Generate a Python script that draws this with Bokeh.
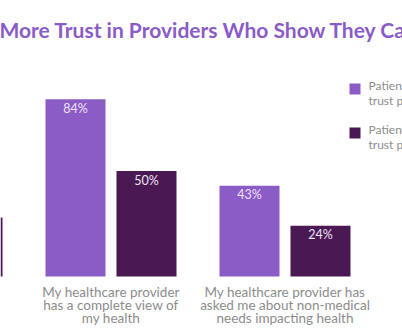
import math
from bokeh.plotting import figure
from bokeh.models import ColumnDataSource, Range1d, Label, BoxAnnotation
from bokeh.transform import dodge
from bokeh.core.properties import value
from bokeh.embed import file_html
from bokeh.resources import INLINE

# ---- data ----
groups = [0, 1, 2]
categories = ["", "My healthcare provider\nhas a complete view of\nmy health",
              "My healthcare provider has\nasked me about non-medical\nneeds impacting health"]
trust = [float("nan"), 84, 43]        # first group's bar lies outside the visible crop
no_trust = [28, 50, 24]
series_names = [["Patients who", "trust providers"], ["Patients who don't", "trust providers"]]
title_text = "More Trust in Providers Who Show They Care"

LIGHT = "#8b5cc6"
DARK = "#4a1953"
GRAY = "#8c8c8c"

def pct(v):
    return "" if (isinstance(v, float) and math.isnan(v)) else f"{v}%"

src = ColumnDataSource(dict(
    g=groups, cat=categories, trust=trust, no_trust=no_trust,
    trust_lbl=[pct(v) for v in trust], no_trust_lbl=[pct(v) for v in no_trust],
))

W, H = 402, 336
px_per_unit = 174.0
x0 = 1 - 110.5 / px_per_unit
px_per_pct = 2.11
y_top = 276 / px_per_pct
y_bot = -(H - 276) / px_per_pct

p = figure(width=W, height=H, output_backend="svg", toolbar_location=None,
           x_range=Range1d(x0, x0 + W / px_per_unit), y_range=Range1d(y_bot, y_top),
           min_border=0, outline_line_color=None)
p.xaxis.visible = False
p.yaxis.visible = False
p.grid.visible = False
p.background_fill_color = "white"
p.border_fill_color = "white"

off = 0.204
w = 60 / px_per_unit
p.vbar(x=dodge("g", -off), top="trust", bottom=0, width=w, source=src,
       fill_color=LIGHT, line_color=None)
p.vbar(x=dodge("g", off), top="no_trust", bottom=0, width=w, source=src,
       fill_color=DARK, line_color=None)

for col, lbl, dx in (("trust", "trust_lbl", -off), ("no_trust", "no_trust_lbl", off)):
    p.text(x=dodge("g", dx), y=col, text=lbl, source=src, y_offset=9,
           text_align="center", text_baseline="middle", text_color="#efe3fb",
           text_font=value("Lato"), text_font_size="12.5px")

p.text(x="g", y=-3.7, text="cat", source=src, text_align="center", text_baseline="top",
       text_color=GRAY, text_font=value("Lato"), text_font_size="13.5px",
       text_line_height=0.79)

p.add_layout(Label(x=-1, y=307, x_units="screen", y_units="screen", text=title_text,
                   text_font="Lato", text_font_size="21px", text_font_style="bold",
                   text_color="#8a5cc6", text_baseline="alphabetic", text_align="left"))

# legend (manual, cropped at the right edge like the reference)
corr = 7
for i, (color, lines) in enumerate(zip((LIGHT, DARK), series_names)):
    top = 83 + i * 44
    p.add_layout(BoxAnnotation(left=349, right=360, top=H - top, bottom=H - top - 11,
                               left_units="screen", right_units="screen",
                               top_units="screen", bottom_units="screen",
                               fill_color=color, fill_alpha=1, line_color=None))
    for j, line in enumerate(lines):
        base = top + 9 + j * 15
        p.add_layout(Label(x=368, y=H - base + corr, x_units="screen", y_units="screen",
                           text=line, text_font="Lato", text_font_size="12px",
                           text_color=GRAY, text_baseline="alphabetic", text_align="left"))

open("out.html", "w").write(file_html(p, INLINE))
